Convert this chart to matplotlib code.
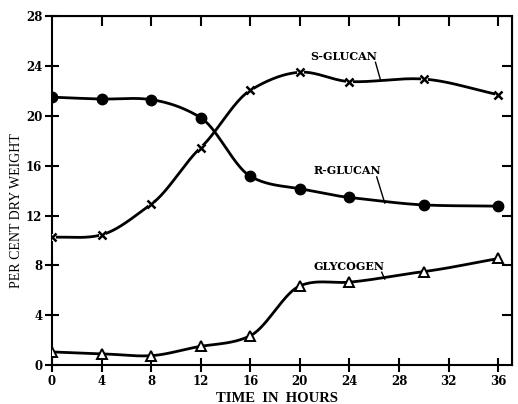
import numpy as np
import matplotlib
matplotlib.use("Agg")
import matplotlib.pyplot as plt

hours = [0, 4, 8, 12, 16, 20, 24, 30, 36]
r_glucan = [21.5, 21.35, 21.3, 19.85, 15.15, 14.15, 13.45, 12.85, 12.75]
s_glucan = [10.25, 10.45, 12.9, 17.45, 22.05, 23.5, 22.75, 22.95, 21.7]
glycogen = [1.05, 0.9, 0.75, 1.5, 2.35, 6.35, 6.65, 7.5, 8.55]

x_ticks = [0, 4, 8, 12, 16, 20, 24, 28, 32, 36]
y_ticks = [0, 4, 8, 12, 16, 20, 24, 28]


def lisse(x, y, tension=0.8, n=40):
    """spline de Catmull-Rom (hermite) pour tracer une courbe lisse a la main"""
    x = np.asarray(x, float)
    y = np.asarray(y, float)
    h = np.diff(x)
    m = np.zeros_like(y)
    m[1:-1] = (y[2:] - y[:-2]) / (x[2:] - x[:-2]) * tension
    m[0] = (y[1] - y[0]) / h[0]
    m[-1] = (y[-1] - y[-2]) / h[-1]
    xs, ys = [], []
    for k in range(len(x) - 1):
        t = np.linspace(0, 1, n)
        h00 = 2 * t**3 - 3 * t**2 + 1
        h10 = t**3 - 2 * t**2 + t
        h01 = -2 * t**3 + 3 * t**2
        h11 = t**3 - t**2
        xs.append(x[k] + t * h[k])
        ys.append(h00 * y[k] + h10 * h[k] * m[k] + h01 * y[k + 1] + h11 * h[k] * m[k + 1])
    return np.concatenate(xs), np.concatenate(ys)


plt.rcParams['font.family'] = ['DejaVu Serif']
fig = plt.figure(figsize=(5.18, 4.04), dpi=100)
ax = fig.add_axes([0.1004, 0.0965, 0.8876, 0.8635])

for serie in (r_glucan, s_glucan, glycogen):
    xs, ys = lisse(hours, serie)
    ax.plot(xs, ys, color='black', lw=2.0, zorder=2)

ax.plot(hours, r_glucan, ls='none', marker='o', ms=7.5, color='black', zorder=3)
# petit blanc autour des croix, la courbe est coupee sur l'original
ax.plot(hours, s_glucan, ls='none', marker='o', ms=5, mew=0, color='white', zorder=3)
ax.plot(hours, s_glucan, ls='none', marker='x', ms=6, mew=1.8, color='black', zorder=4)
ax.plot(hours, glycogen, ls='none', marker='^', ms=7.5, mew=1.4,
        mfc='white', mec='black', zorder=3)

# étiquettes des courbes
txt = dict(fontsize=8, fontweight='bold', ha='center', va='center')
ax.text(23.55, 24.8, 'S-GLUCAN', **txt)
ax.plot([26.1, 26.5], [24.3, 22.9], color='black', lw=1.0)
ax.text(23.8, 15.6, 'R-GLUCAN', **txt)
ax.plot([26.2, 26.85], [15.1, 13.0], color='black', lw=1.0)
ax.text(24.0, 7.9, 'GLYCOGEN', **txt)
ax.plot([26.6, 26.85], [7.45, 6.9], color='black', lw=1.0)

ax.set_xlim(0, 37.1)
ax.set_ylim(0, 28)
ax.set_xticks(x_ticks)
ax.set_yticks(y_ticks)
ax.tick_params(direction='inout', length=10, width=1.5, labelsize=8.5, pad=2)
for lab in ax.get_xticklabels() + ax.get_yticklabels():
    lab.set_fontweight('bold')
for s in ax.spines.values():
    s.set_linewidth(1.5)

# ticks interieurs en haut et a droite
top = ax.secondary_xaxis('top')
top.set_xticks(x_ticks[1:])
top.tick_params(direction='in', length=7, width=1.5, labeltop=False)
right = ax.secondary_yaxis('right')
right.set_yticks(y_ticks[1:-1])
right.tick_params(direction='in', length=7, width=1.5, labelright=False)

fig.text(277 / 518, 1 - 398 / 404, 'TIME  IN  HOURS', fontsize=10.5,
         fontweight='bold', family='Liberation Serif', ha='center', va='center')
fig.text(17 / 518, 1 - 211 / 404, 'PER CENT DRY WEIGHT', fontsize=10,
         family='Liberation Serif', rotation=90, ha='center', va='center')

fig.savefig('out.png', dpi=100)
